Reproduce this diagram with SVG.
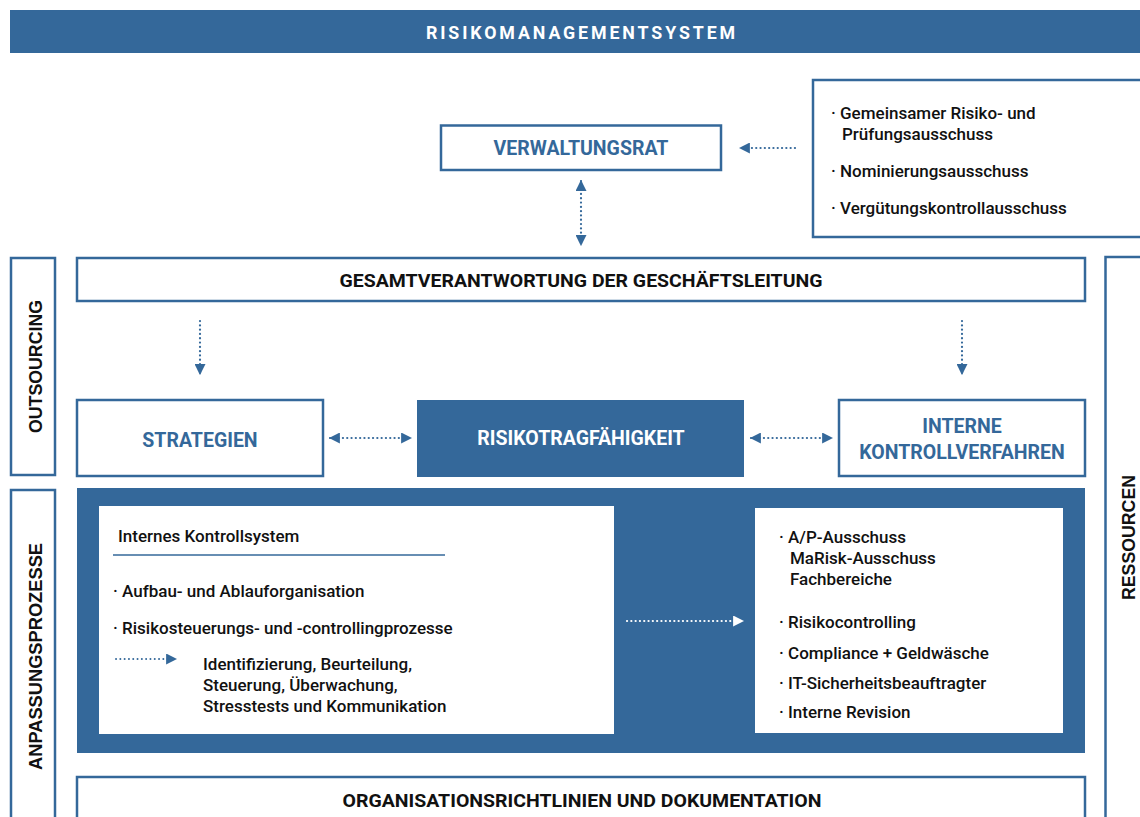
<svg xmlns="http://www.w3.org/2000/svg" width="1140" height="817" viewBox="0 0 1140 817">
<style>
.box{fill:#fff;stroke:#34689a;stroke-width:2.5}
.fill{fill:#34689a}
.t{font-family:Roboto,"Liberation Sans",sans-serif}
.hb{font-weight:700;fill:#34689a;font-size:19.5px;text-anchor:middle}
.hk{font-weight:700;fill:#111;font-size:19px;text-anchor:middle}
.li{font-weight:500;fill:#111;font-size:17px}
.side{font-family:"Liberation Sans",Arial,sans-serif;font-weight:700;fill:#111;font-size:18px;text-anchor:middle}
.dot{fill:none;stroke:#34689a;stroke-width:2.2;stroke-linecap:round;stroke-dasharray:0.1 4.2}
.dotw{fill:none;stroke:#fff;stroke-width:2.2;stroke-linecap:round;stroke-dasharray:0.1 4.2}
</style>
<defs>
<marker id="ah" viewBox="0 0 10 10" refX="9" refY="5" markerWidth="11" markerHeight="11" markerUnits="userSpaceOnUse" orient="auto-start-reverse"><path d="M0,0 L10,5 L0,10 Z" fill="#34689a"/></marker>
<marker id="ahw" viewBox="0 0 10 10" refX="9" refY="5" markerWidth="11" markerHeight="11" markerUnits="userSpaceOnUse" orient="auto-start-reverse"><path d="M0,0 L10,5 L0,10 Z" fill="#fff"/></marker>
</defs>

<g id="banner">
<rect x="10" y="10" width="1132" height="43" class="fill"/>
<text x="426" y="39" class="t" style="font-weight:700;font-size:18.5px;fill:#fff;letter-spacing:3px" textLength="312" lengthAdjust="spacingAndGlyphs">RISIKOMANAGEMENTSYSTEM</text>
</g>

<g id="verwaltungsrat">
<rect x="441" y="125.5" width="280" height="44.5" class="box"/>
<text x="581" y="155" class="t hb">VERWALTUNGSRAT</text>
</g>

<g id="ausschuesse">
<rect x="813" y="80" width="340" height="157" class="box"/>
<text class="t li" x="831" y="119">· Gemeinsamer Risiko- und</text>
<text class="t li" x="842" y="140">Prüfungsausschuss</text>
<text class="t li" x="831" y="177">· Nominierungsausschuss</text>
<text class="t li" x="831" y="214">· Vergütungskontrollausschuss</text>
</g>

<g id="outsourcing">
<rect x="11" y="258" width="44" height="217" class="box"/>
<text class="side" transform="translate(42,366.5) rotate(-90)" textLength="133" lengthAdjust="spacingAndGlyphs">OUTSOURCING</text>
</g>

<g id="gesamtverantwortung">
<rect x="77" y="258" width="1008" height="43" class="box"/>
<text x="581" y="287" class="t hk" textLength="483" lengthAdjust="spacingAndGlyphs">GESAMTVERANTWORTUNG DER GESCHÄFTSLEITUNG</text>
</g>

<g id="strategien">
<rect x="77" y="400" width="246" height="76" class="box"/>
<text x="200" y="447" class="t hb">STRATEGIEN</text>
</g>

<g id="risikotragfaehigkeit">
<rect x="417" y="400" width="327" height="77" class="fill"/>
<text x="581" y="445" class="t hb" style="fill:#fff">RISIKOTRAGFÄHIGKEIT</text>
</g>

<g id="interne-kontrollverfahren">
<rect x="839" y="400" width="246" height="76" class="box"/>
<text x="962" y="433" class="t hb">INTERNE</text>
<text x="962" y="459" class="t hb">KONTROLLVERFAHREN</text>
</g>

<g id="anpassungsprozesse">
<rect x="11" y="490" width="44" height="340" class="box"/>
<text class="side" transform="translate(42,656.5) rotate(-90)" textLength="227" lengthAdjust="spacingAndGlyphs">ANPASSUNGSPROZESSE</text>
</g>

<g id="ressourcen">
<rect x="1105.5" y="257" width="50" height="580" class="box"/>
<text class="side" transform="translate(1135,537.5) rotate(-90)" textLength="125" lengthAdjust="spacingAndGlyphs">RESSOURCEN</text>
</g>

<g id="kontrollbereich">
<rect x="77" y="488" width="1008" height="265" class="fill"/>
</g>

<g id="internes-kontrollsystem">
<rect x="99" y="506" width="515" height="228" fill="#fff"/>
<text class="t li" x="118" y="542">Internes Kontrollsystem</text>
<line x1="113" y1="555" x2="445" y2="555" stroke="#34689a" stroke-width="1.5"/>
<text class="t li" x="113" y="597">· Aufbau- und Ablauforganisation</text>
<text class="t li" x="113" y="634">· Risikosteuerungs- und -controllingprozesse</text>
<text class="t li" x="203" y="670">Identifizierung, Beurteilung,</text>
<text class="t li" x="203" y="691">Steuerung, Überwachung,</text>
<text class="t li" x="203" y="712">Stresstests und Kommunikation</text>
</g>

<g id="funktionen">
<rect x="755" y="508" width="308" height="225" fill="#fff"/>
<text class="t li" x="779" y="543">· A/P-Ausschuss</text>
<text class="t li" x="790" y="564">MaRisk-Ausschuss</text>
<text class="t li" x="790" y="585">Fachbereiche</text>
<text class="t li" x="779" y="628">· Risikocontrolling</text>
<text class="t li" x="779" y="659">· Compliance + Geldwäsche</text>
<text class="t li" x="779" y="689">· IT-Sicherheitsbeauftragter</text>
<text class="t li" x="779" y="718">· Interne Revision</text>
</g>

<g id="organisationsrichtlinien">
<rect x="77" y="777" width="1008" height="60" class="box"/>
<text x="582" y="807" class="t hk" textLength="479" lengthAdjust="spacingAndGlyphs">ORGANISATIONSRICHTLINIEN UND DOKUMENTATION</text>
</g>

<g id="connectors">
<line x1="795" y1="148" x2="740" y2="148" class="dot" marker-end="url(#ah)"/>
<line x1="581" y1="181" x2="581" y2="245" class="dot" marker-start="url(#ah)" marker-end="url(#ah)"/>
<line x1="200" y1="321" x2="200" y2="374" class="dot" marker-end="url(#ah)"/>
<line x1="962" y1="321" x2="962" y2="374" class="dot" marker-end="url(#ah)"/>
<line x1="330" y1="438" x2="411" y2="438" class="dot" marker-start="url(#ah)" marker-end="url(#ah)"/>
<line x1="751" y1="438" x2="832" y2="438" class="dot" marker-start="url(#ah)" marker-end="url(#ah)"/>
<line x1="116" y1="659" x2="176" y2="659" class="dot" style="stroke-width:1.9" marker-end="url(#ah)"/>
<line x1="627" y1="621" x2="743" y2="621" class="dotw" marker-end="url(#ahw)"/>
</g>
</svg>
